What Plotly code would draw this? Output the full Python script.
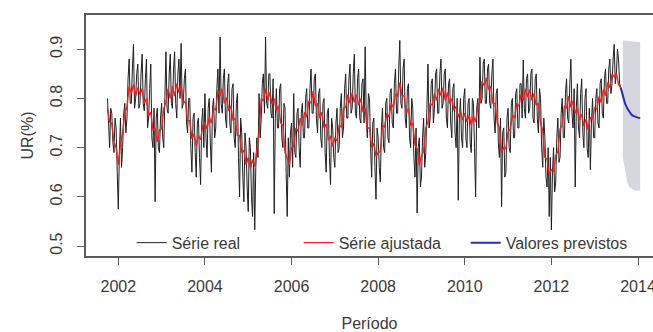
import numpy as np
import plotly.graph_objects as go

# ---------------- data ----------------
inicio = 2001.75          # first observation (decimal year)
passo_real = 0.025        # sampling step of the observed series (years)
passo_aj = 0.05           # sampling step of the fitted series (years)

serie_real = (
    # 2001.750 - 2001.975
    [0.800, 0.740, 0.700, 0.780, 0.770, 0.710, 0.690, 0.760, 0.740, 0.650] +
    # 2002
    [0.575, 0.690, 0.760, 0.660, 0.700, 0.770, 0.790, 0.730, 0.760, 0.840,
     0.880, 0.790, 0.790, 0.860, 0.910, 0.780, 0.800, 0.850, 0.870, 0.780,
     0.790, 0.850, 0.890, 0.790, 0.775, 0.840, 0.880, 0.740, 0.760, 0.820,
     0.870, 0.720, 0.700, 0.780, 0.590, 0.760, 0.780, 0.700, 0.690, 0.760] +
    # 2003
    [0.790, 0.720, 0.700, 0.800, 0.895, 0.780, 0.770, 0.850, 0.890, 0.790,
     0.780, 0.860, 0.895, 0.790, 0.760, 0.850, 0.880, 0.800, 0.912, 0.780,
     0.790, 0.840, 0.860, 0.750, 0.730, 0.800, 0.800, 0.700, 0.650, 0.760,
     0.770, 0.690, 0.640, 0.750, 0.760, 0.680, 0.625, 0.750, 0.780, 0.700] +
    # 2004
    [0.810, 0.720, 0.680, 0.780, 0.800, 0.710, 0.650, 0.780, 0.800, 0.720,
     0.740, 0.820, 0.860, 0.770, 0.925, 0.790, 0.770, 0.840, 0.860, 0.760,
     0.740, 0.830, 0.850, 0.750, 0.730, 0.820, 0.830, 0.720, 0.700, 0.790,
     0.810, 0.680, 0.600, 0.760, 0.730, 0.640, 0.590, 0.730, 0.700, 0.620] +
    # 2005
    [0.570, 0.720, 0.700, 0.600, 0.560, 0.690, 0.533, 0.660, 0.720, 0.680,
     0.810, 0.720, 0.760, 0.830, 0.850, 0.770, 0.925, 0.790, 0.780, 0.850,
     0.850, 0.770, 0.760, 0.840, 0.566, 0.760, 0.820, 0.740, 0.740, 0.820,
     0.830, 0.720, 0.700, 0.790, 0.780, 0.650, 0.560, 0.720, 0.640, 0.730] +
    # 2006
    [0.750, 0.660, 0.810, 0.690, 0.680, 0.770, 0.780, 0.700, 0.660, 0.770,
     0.790, 0.720, 0.720, 0.800, 0.820, 0.740, 0.740, 0.820, 0.860, 0.770,
     0.770, 0.840, 0.850, 0.760, 0.730, 0.810, 0.820, 0.720, 0.700, 0.790,
     0.800, 0.690, 0.650, 0.770, 0.780, 0.680, 0.625, 0.760, 0.740, 0.680] +
    # 2007
    [0.660, 0.750, 0.780, 0.690, 0.700, 0.780, 0.810, 0.720, 0.740, 0.820,
     0.850, 0.760, 0.760, 0.840, 0.870, 0.770, 0.780, 0.850, 0.890, 0.770,
     0.760, 0.840, 0.860, 0.760, 0.750, 0.830, 0.840, 0.750, 0.905, 0.760,
     0.720, 0.810, 0.800, 0.700, 0.640, 0.750, 0.760, 0.660, 0.595, 0.740] +
    # 2008
    [0.720, 0.660, 0.630, 0.740, 0.780, 0.700, 0.690, 0.790, 0.800, 0.720,
     0.710, 0.810, 0.820, 0.750, 0.740, 0.830, 0.860, 0.770, 0.770, 0.860,
     0.918, 0.790, 0.780, 0.860, 0.880, 0.760, 0.740, 0.820, 0.830, 0.720,
     0.700, 0.800, 0.780, 0.680, 0.640, 0.740, 0.567, 0.700, 0.720, 0.620] +
    # 2009
    [0.640, 0.720, 0.760, 0.660, 0.690, 0.780, 0.870, 0.740, 0.760, 0.830,
     0.840, 0.750, 0.780, 0.850, 0.860, 0.770, 0.770, 0.850, 0.880, 0.780,
     0.790, 0.850, 0.860, 0.760, 0.740, 0.830, 0.840, 0.750, 0.720, 0.820,
     0.830, 0.730, 0.700, 0.800, 0.593, 0.760, 0.800, 0.720, 0.700, 0.800] +
    # 2010
    [0.820, 0.720, 0.700, 0.790, 0.800, 0.710, 0.690, 0.800, 0.790, 0.700,
     0.600, 0.780, 0.800, 0.740, 0.884, 0.790, 0.800, 0.870, 0.880, 0.790,
     0.790, 0.860, 0.870, 0.790, 0.780, 0.850, 0.880, 0.760, 0.730, 0.810,
     0.820, 0.710, 0.680, 0.760, 0.580, 0.730, 0.740, 0.640, 0.650, 0.760] +
    # 2011
    [0.780, 0.700, 0.690, 0.790, 0.800, 0.720, 0.720, 0.810, 0.820, 0.740,
     0.740, 0.830, 0.830, 0.760, 0.878, 0.780, 0.760, 0.840, 0.850, 0.770,
     0.780, 0.850, 0.860, 0.760, 0.750, 0.840, 0.850, 0.760, 0.730, 0.820,
     0.800, 0.700, 0.660, 0.760, 0.720, 0.640, 0.620, 0.700, 0.560, 0.680] +
    # 2012
    [0.533, 0.650, 0.700, 0.610, 0.630, 0.720, 0.760, 0.670, 0.680, 0.770,
     0.800, 0.720, 0.720, 0.810, 0.840, 0.760, 0.750, 0.830, 0.880, 0.770,
     0.740, 0.820, 0.620, 0.780, 0.830, 0.740, 0.720, 0.810, 0.840, 0.730,
     0.700, 0.800, 0.820, 0.700, 0.680, 0.780, 0.655, 0.750, 0.800, 0.720] +
    # 2013.000 - 2013.600
    [0.720, 0.800, 0.820, 0.750, 0.740, 0.830, 0.840, 0.770, 0.760, 0.840,
     0.860, 0.790, 0.790, 0.860, 0.880, 0.810, 0.830, 0.880, 0.910, 0.830,
     0.850, 0.900, 0.880, 0.830, 0.822]
)

serie_ajustada = (
    [0.780, 0.752, 0.750, 0.712, 0.700] +
    [0.665, 0.708, 0.728, 0.772, 0.782, 0.825, 0.810, 0.828, 0.805, 0.822,
     0.808, 0.820, 0.790, 0.800, 0.765, 0.772, 0.735, 0.740, 0.712, 0.736] +
    [0.738, 0.780, 0.792, 0.820, 0.800, 0.825, 0.805, 0.830, 0.812, 0.826,
     0.790, 0.795, 0.755, 0.755, 0.718, 0.728, 0.703, 0.724, 0.716, 0.745] +
    [0.750, 0.738, 0.762, 0.750, 0.780, 0.776, 0.816, 0.805, 0.820, 0.790,
     0.802, 0.775, 0.785, 0.755, 0.760, 0.725, 0.725, 0.690, 0.695, 0.665] +
    [0.680, 0.658, 0.676, 0.662, 0.700, 0.730, 0.800, 0.795, 0.820, 0.796,
     0.812, 0.788, 0.800, 0.775, 0.785, 0.750, 0.745, 0.690, 0.678, 0.665] +
    [0.700, 0.702, 0.740, 0.733, 0.760, 0.745, 0.772, 0.762, 0.795, 0.790,
     0.815, 0.785, 0.790, 0.760, 0.772, 0.740, 0.748, 0.715, 0.724, 0.702] +
    [0.720, 0.714, 0.745, 0.742, 0.780, 0.782, 0.808, 0.790, 0.812, 0.792,
     0.808, 0.786, 0.800, 0.772, 0.780, 0.740, 0.740, 0.700, 0.708, 0.682] +
    [0.690, 0.692, 0.745, 0.742, 0.770, 0.762, 0.790, 0.782, 0.810, 0.804,
     0.832, 0.806, 0.805, 0.770, 0.780, 0.745, 0.750, 0.705, 0.698, 0.664] +
    [0.684, 0.692, 0.740, 0.752, 0.790, 0.786, 0.810, 0.796, 0.820, 0.806,
     0.822, 0.796, 0.812, 0.790, 0.800, 0.776, 0.784, 0.762, 0.775, 0.756] +
    [0.770, 0.752, 0.766, 0.746, 0.764, 0.752, 0.785, 0.792, 0.835, 0.826,
     0.842, 0.818, 0.825, 0.790, 0.790, 0.750, 0.740, 0.690, 0.700, 0.698] +
    [0.732, 0.738, 0.766, 0.760, 0.790, 0.784, 0.810, 0.796, 0.820, 0.803,
     0.818, 0.796, 0.810, 0.786, 0.790, 0.750, 0.735, 0.680, 0.676, 0.645] +
    [0.655, 0.652, 0.684, 0.692, 0.738, 0.746, 0.785, 0.780, 0.805, 0.782,
     0.795, 0.770, 0.780, 0.756, 0.768, 0.744, 0.758, 0.736, 0.762, 0.758] +
    [0.782, 0.778, 0.804, 0.792, 0.818, 0.806, 0.832, 0.822, 0.850, 0.844,
     0.852, 0.828, 0.822]
)

inicio_prev = 2013.60
valores_previstos = [0.822, 0.805, 0.790, 0.780, 0.772, 0.767, 0.764, 0.762, 0.761, 0.760]

inicio_ic = 2013.65
ic_superior = [0.918, 0.918, 0.917, 0.917, 0.916, 0.916, 0.915, 0.915, 0.915]
ic_inferior = [0.680, 0.650, 0.630, 0.620, 0.616, 0.614, 0.613, 0.613, 0.613]

anos_ticks = [2002, 2004, 2006, 2008, 2010, 2012, 2014]
ur_ticks = [0.5, 0.6, 0.7, 0.8, 0.9]

t_real = inicio + passo_real * np.arange(len(serie_real))
t_aj = inicio + passo_aj * np.arange(len(serie_ajustada))
t_prev = inicio_prev + passo_aj * np.arange(len(valores_previstos))
t_ic = inicio_ic + passo_aj * np.arange(len(ic_superior))

# ---------------- figure ----------------
FONT = "Liberation Sans, Arial, sans-serif"
TXT = "#3a3a3a"

fig = go.Figure()

fig.add_trace(go.Scatter(x=t_ic, y=ic_inferior, mode="lines",
                         line=dict(width=0, color="rgba(0,0,0,0)"),
                         showlegend=False, hoverinfo="skip"))
fig.add_trace(go.Scatter(x=t_ic, y=ic_superior, mode="lines",
                         line=dict(width=0, color="rgba(0,0,0,0)"),
                         fill="tonexty", fillcolor="#d6d6de",
                         showlegend=False, hoverinfo="skip"))

fig.add_trace(go.Scatter(x=t_real, y=serie_real, mode="lines", name="Série real",
                         line=dict(color="#1e1e1e", width=1)))
fig.add_trace(go.Scatter(x=t_aj, y=serie_ajustada, mode="lines", name="Série ajustada",
                         line=dict(color="#ee2222", width=1.4)))
fig.add_trace(go.Scatter(x=t_prev, y=valores_previstos, mode="lines",
                         name="Valores previstos",
                         line=dict(color="#2a2ab8", width=2)))

fig.update_layout(
    width=653, height=332,
    margin=dict(l=86, r=0, t=15, b=76, autoexpand=False),
    paper_bgcolor="white", plot_bgcolor="white",
    font=dict(family=FONT, size=16, color=TXT),
    showlegend=True,
    legend=dict(orientation="h", traceorder="normal",
                x=0.0806, xanchor="left", y=0.055, yanchor="middle",
                bgcolor="rgba(0,0,0,0)", font=dict(size=16, color=TXT),
                entrywidth=122, entrywidthmode="pixels", itemwidth=30),
    xaxis=dict(range=[2001.254, 2014.346], tickvals=anos_ticks,
               ticktext=[str(a) for a in anos_ticks],
               showgrid=False, zeroline=False, automargin=False,
               showline=True, linecolor="#5a5a5a", linewidth=1.5, mirror=True,
               ticks="outside", ticklen=7, tickcolor="#5a5a5a", tickwidth=1.2,
               ticklabelstandoff=8, ticklabeloverflow="allow",
               title=dict(text="Período", standoff=30, font=dict(size=16))),
    yaxis=dict(range=[0.4797, 0.9697], tickvals=ur_ticks,
               ticktext=[f"{v:.1f}" for v in ur_ticks],
               showgrid=False, zeroline=False, automargin=False,
               showline=True, linecolor="#5a5a5a", linewidth=1.5, mirror=False,
               ticks="outside", ticklen=7, tickcolor="#5a5a5a", tickwidth=1.2,
               tickangle=-90, ticklabelstandoff=9,
               title=dict(text="UR(%)", standoff=10, font=dict(size=16))),
)

fig.write_html("out.html",
               config={"displayModeBar": False},
               post_script="document.body.style.margin='0';"
                           "document.body.style.overflow='hidden';")
